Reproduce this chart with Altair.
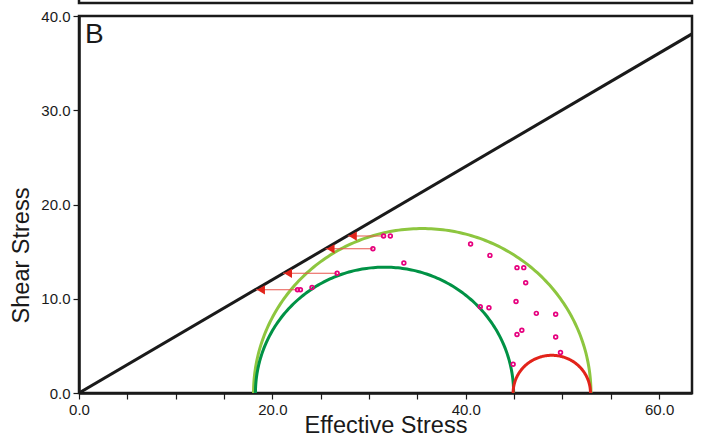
import altair as alt
import numpy as np
import pandas as pd

# ---- data ----
env_x = [0.0, 63.4]
env_y = [0.0, 38.1]

circle_name = ["outer", "inner", "small"]
circle_center = [35.5, 31.6, 48.9]
circle_radius = [17.45, 13.35, 4.0]
circle_color = ["#8dc63f", "#009245", "#e2231a"]

arrow_y = [16.65, 15.3, 12.7, 10.95]
arrow_tip_x = [27.8, 25.5, 21.1, 18.3]
arrow_end_x = [31.5, 30.4, 26.7, 22.6]

pt_x = [31.5, 32.2, 30.4, 26.7, 22.6, 22.9, 24.1, 33.6,
        40.5, 42.5, 45.3, 46.0, 46.2, 45.2, 41.5, 42.4, 47.3, 49.3,
        45.8, 45.3, 49.3, 49.8, 44.9]
pt_y = [16.65, 16.65, 15.3, 12.7, 10.95, 10.95, 11.2, 13.8,
        15.8, 14.6, 13.3, 13.3, 11.7, 9.7, 9.15, 9.05, 8.45, 8.35,
        6.65, 6.2, 5.95, 4.3, 3.05]

x_ticks = [0, 5, 10, 15, 20, 25, 30, 35, 40, 45, 50, 55, 60]
y_ticks = [0, 10, 20, 30, 40]

W, H = 613, 377

# ---- tables ----
env_df = pd.DataFrame({"x": env_x, "y": env_y})

rows = []
t = np.linspace(0, np.pi, 181)
for n, c, r in zip(circle_name, circle_center, circle_radius):
    for i, a in enumerate(t):
        rows.append({"name": n, "order": i, "x": c - r * np.cos(a), "y": r * np.sin(a)})
circ_df = pd.DataFrame(rows)

arrow_df = pd.DataFrame({"y": arrow_y, "x": arrow_tip_x, "x2": arrow_end_x})
pts_df = pd.DataFrame({"x": pt_x, "y": pt_y})

xscale = alt.Scale(domain=[0, 63.4], nice=False, zero=False)
yscale = alt.Scale(domain=[0, 40], nice=False, zero=False)

xaxis = alt.Axis(
    values=x_ticks,
    labelExpr="datum.value % 20 === 0 ? format(datum.value, '.1f') : ''",
    labelFlush=False, labelOverlap=False,
    title="Effective Stress",
    titleY=39, titleBaseline="alphabetic",
    tickSize=6, labelPadding=3, grid=False,
)
yaxis = alt.Axis(
    values=y_ticks, format=".1f",
    labelFlush=False, labelOverlap=False,
    title="Shear Stress",
    titleX=-46, titleY=239,
    tickSize=6, labelPadding=3, grid=False,
)

base_x = alt.X("x:Q", scale=xscale, axis=xaxis)
base_y = alt.Y("y:Q", scale=yscale, axis=yaxis)

env = alt.Chart(env_df).mark_line(color="#1a1a1a", strokeWidth=3, clip=True).encode(
    x=base_x, y=base_y
)

circles = alt.Chart(circ_df).mark_line(strokeWidth=3, clip=True).encode(
    x=alt.X("x:Q", scale=xscale),
    y=alt.Y("y:Q", scale=yscale),
    detail="name:N",
    order="order:Q",
    color=alt.Color("name:N", scale=alt.Scale(domain=circle_name, range=circle_color), legend=None),
)

arrow_lines = alt.Chart(arrow_df).mark_rule(color="#e8564e", strokeWidth=1.1).encode(
    x=alt.X("x:Q", scale=xscale), x2="x2:Q", y=alt.Y("y:Q", scale=yscale)
)

arrow_heads = alt.Chart(arrow_df).mark_point(
    shape="triangle-left", filled=True, size=85, color="#e2231a", opacity=1, xOffset=5
).encode(x=alt.X("x:Q", scale=xscale), y=alt.Y("y:Q", scale=yscale))

points = alt.Chart(pts_df).mark_point(
    shape="circle", filled=False, size=14, strokeWidth=1.7, color="#e6007e", opacity=1
).encode(x=alt.X("x:Q", scale=xscale), y=alt.Y("y:Q", scale=yscale))

label_b = alt.Chart(pd.DataFrame({"t": ["B"]})).mark_text(
    text="B", fontSize=28, align="left", baseline="alphabetic", color="#1a1a1a"
).encode(x=alt.value(6), y=alt.value(27))

top_panel = alt.Chart(pd.DataFrame({"t": [0]})).mark_rect(
    fill=None, stroke="#1a1a1a", strokeWidth=2.5, clip=False
).encode(x=alt.value(0), x2=alt.value(W), y=alt.value(-40), y2=alt.value(-13))

chart = alt.layer(
    circles, env, arrow_lines, arrow_heads, points, label_b, top_panel
).properties(
    width=W, height=H,
    autosize=alt.AutoSizeParams(type="none"),
    padding={"left": 79, "top": 16, "right": 10, "bottom": 44},
).configure(
    font="Liberation Sans",
).configure_view(
    stroke="#1a1a1a", strokeWidth=2.5,
).configure_axis(
    domainColor="#1a1a1a", domainWidth=2.5,
    tickColor="#1a1a1a", tickWidth=1.2,
    labelColor="#1a1a1a", labelFontSize=15,
    titleColor="#1a1a1a", titleFontSize=23.5, titleFontWeight="normal",
)

chart.save("out.html", embed_options={"renderer": "svg", "actions": False})
